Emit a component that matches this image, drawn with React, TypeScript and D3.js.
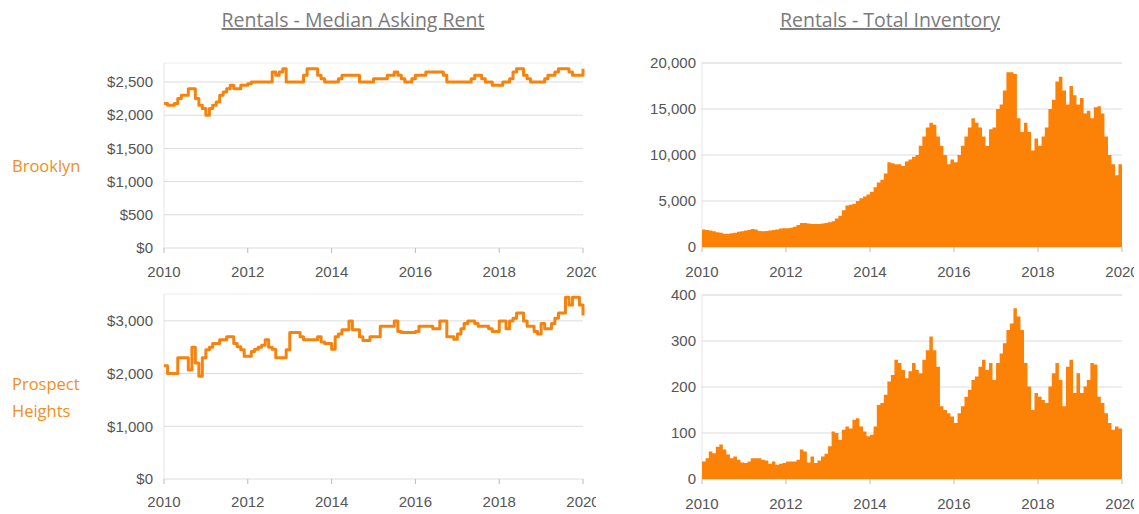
import React from "react";
import * as d3 from "d3";

const xTickYears = [2010, 2012, 2014, 2016, 2018, 2020];
const titles = ["Rentals - Median Asking Rent", "Rentals - Total Inventory"];

// Monthly values, Jan 2010 .. Jan 2020
const brooklynRent = [
  2175, 2150, 2150, 2175, 2250, 2300, 2300, 2400, 2400, 2250, 2150, 2100,
  2000, 2100, 2150, 2200, 2300, 2350, 2400, 2450, 2400, 2400, 2450, 2450,
  2475, 2500, 2500, 2500, 2500, 2500, 2500, 2650, 2600, 2650, 2700, 2500,
  2500, 2500, 2500, 2500, 2600, 2700, 2700, 2700, 2600, 2550, 2500, 2500,
  2500, 2500, 2550, 2600, 2600, 2600, 2600, 2600, 2500, 2500, 2500, 2500,
  2550, 2550, 2550, 2550, 2600, 2600, 2650, 2600, 2550, 2500, 2500, 2550,
  2600, 2600, 2600, 2650, 2650, 2650, 2650, 2650, 2600, 2500, 2500, 2500,
  2500, 2500, 2500, 2500, 2550, 2600, 2600, 2550, 2500, 2500, 2450, 2450,
  2450, 2500, 2500, 2550, 2650, 2700, 2700, 2600, 2550, 2500, 2500, 2500,
  2500, 2550, 2600, 2600, 2650, 2700, 2700, 2700, 2650, 2600, 2600, 2600,
  2700,
];

const prospectRent = [
  2150, 2000, 2000, 2000, 2300, 2300, 2300, 2070, 2500, 2200, 1950, 2300,
  2450, 2500, 2570, 2570, 2640, 2640, 2700, 2700, 2570, 2510, 2450, 2330,
  2330, 2420, 2460, 2500, 2540, 2640, 2500, 2460, 2300, 2300, 2300, 2450,
  2780, 2780, 2780, 2700, 2640, 2640, 2640, 2640, 2700, 2600, 2570, 2570,
  2460, 2700, 2750, 2830, 2830, 3000, 2830, 2830, 2700, 2630, 2630, 2700,
  2700, 2700, 2900, 2900, 2900, 2900, 3000, 2800, 2780, 2780, 2780, 2780,
  2800, 2900, 2900, 2900, 2900, 2850, 2850, 3000, 3000, 2700, 2700, 2650,
  2750, 2850, 2950, 3000, 3000, 2950, 2900, 2900, 2900, 2850, 2800, 2800,
  3000, 3000, 2850, 3000, 3050, 3150, 3150, 3000, 2900, 2900, 2800, 2750,
  2950, 2850, 2850, 2950, 3050, 3150, 3150, 3450, 3300, 3450, 3450, 3300,
  3100,
];

const brooklynInventory = [
  1900, 1850, 1800, 1700, 1600, 1550, 1450, 1450, 1500, 1550, 1650, 1700,
  1800, 1850, 1950, 1900, 1750, 1700, 1750, 1800, 1850, 1900, 2000, 2050,
  2050, 2100, 2200, 2400, 2600, 2600, 2550, 2500, 2500, 2500, 2550, 2600,
  2700, 2800, 3100, 3400, 4000, 4500, 4600, 4700, 5000, 5300, 5500, 5700,
  6000, 6500, 7000, 7300, 8000, 9200, 9100, 9000, 9000, 8800, 9300, 9500,
  9800, 10000, 11000, 12000, 13000, 13500, 13300, 12000, 11000, 10000, 9000, 9500,
  9200, 10000, 11000, 12000, 13000, 14000, 13500, 13000, 12000, 11000, 12800, 13000,
  15000, 15500, 17000, 19000, 19000, 18800, 14000, 12500, 13500, 12500, 10500, 11800,
  11000, 12000, 13000, 15000, 16000, 18000, 18500, 17000, 15500, 17500, 16500, 15500,
  16200, 14500, 14800, 14000, 15200, 15300, 14500, 12000, 10000, 9000, 7800, 9000,
  8500,
];

const prospectInventory = [
  38, 45, 60, 56, 70, 75, 64, 53, 45, 49, 42, 36,
  35, 38, 45, 45, 45, 42, 40, 33, 38, 31, 33, 35,
  38, 38, 38, 42, 64, 60, 36, 49, 35, 40, 49, 55,
  71, 103, 100, 85, 107, 114, 110, 129, 132, 114, 103, 93,
  96, 114, 161, 165, 183, 212, 226, 259, 252, 237, 219, 234,
  252, 237, 230, 259, 280, 310, 280, 244, 158, 150, 143, 136,
  122, 143, 158, 179, 194, 215, 223, 244, 259, 237, 252, 215,
  252, 273, 295, 324, 338, 371, 353, 324, 252, 201, 150, 187,
  179, 172, 165, 201, 230, 252, 215, 158, 244, 259, 187, 230,
  187, 201, 215, 252, 249, 179, 165, 143, 122, 107, 114, 110,
  110,
];

const rentTicksBrooklyn = [0, 500, 1000, 1500, 2000, 2500];
const rentTicksProspect = [0, 1000, 2000, 3000];
const invTicksBrooklyn = [0, 5000, 10000, 15000, 20000];
const invTicksProspect = [0, 100, 200, 300, 400];

const ORANGE = "#f7830d";
const FILL = "#fb8107";
const GRID = "#dcdcdc";
const TICK_TEXT = "#555";
const TICK_FONT = "'Liberation Sans', Arial, sans-serif";
const LABEL_FONT = "'Open Sans', sans-serif";

type PanelProps = {
  id: string;
  x0: number;
  x1: number;
  yTop: number;
  yBottom: number;
  max: number;
  ticks: number[];
  fmt: (v: number) => string;
  values: number[];
  kind: "line" | "area";
  labelGap: number;
  xLabelY: number;
  clipRight: number;
};

function Panel(p: PanelProps) {
  const x = d3
    .scaleTime()
    .domain([new Date(2010, 0, 1), new Date(2020, 0, 1)])
    .range([p.x0, p.x1]);
  const y = d3.scaleLinear().domain([0, p.max]).range([p.yBottom, p.yTop]);
  const pts = p.values.map((v, i) => ({ d: new Date(2010, i, 1), v }));

  let path = "";
  if (p.kind === "line") {
    path =
      d3
        .line<{ d: Date; v: number }>()
        .x((d) => x(d.d))
        .y((d) => y(d.v))
        .curve(d3.curveStepAfter)(pts) || "";
  } else {
    path =
      d3
        .area<{ d: Date; v: number }>()
        .x((d) => x(d.d))
        .y0(y(0))
        .y1((d) => y(d.v))
        .curve(d3.curveStepAfter)(pts) || "";
  }

  return (
    <g>
      <defs>
        <clipPath id={p.id}>
          <rect x={0} y={0} width={p.clipRight} height={514} />
        </clipPath>
      </defs>
      <line x1={p.x0} x2={p.x1} y1={p.yTop} y2={p.yTop} stroke="#ececec" />
      <line x1={p.x0} x2={p.x0} y1={p.yTop} y2={p.yBottom} stroke="#e4e4e4" />
      {p.ticks.map((t) => (
        <g key={t}>
          <line x1={p.x0} x2={p.x1} y1={y(t)} y2={y(t)} stroke={GRID} strokeWidth={1} />
          <text
            x={p.x0 - p.labelGap}
            y={y(t)}
            dy="0.35em"
            textAnchor="end"
            fontFamily={TICK_FONT}
            fontSize={15}
            fill={TICK_TEXT}
          >
            {p.fmt(t)}
          </text>
        </g>
      ))}
      {p.kind === "line" ? (
        <path d={path} fill="none" stroke={ORANGE} strokeWidth={3} strokeLinejoin="round" />
      ) : (
        <path d={path} fill={FILL} stroke="none" />
      )}
      <g clipPath={`url(#${p.id})`}>
        {xTickYears.map((yr) => {
          const xx = x(new Date(yr, 0, 1));
          return (
            <g key={yr}>
              <line x1={xx} x2={xx} y1={p.yBottom} y2={p.yBottom + 5} stroke="#bbb" />
              <text
                x={xx}
                y={p.xLabelY}
                textAnchor="middle"
                fontFamily={TICK_FONT}
                fontSize={15}
                fill={TICK_TEXT}
              >
                {yr}
              </text>
            </g>
          );
        })}
      </g>
    </g>
  );
}

const fmtDollar = (v: number) => "$" + d3.format(",")(v);
const fmtNum = (v: number) => d3.format(",")(v);

export default function App() {
  return (
    <svg
      width={1139}
      height={514}
      style={{ position: "absolute", left: 0, top: 0, background: "#fff" }}
    >
      <rect width={1139} height={514} fill="#fff" />
      <text
        x={353}
        y={27}
        textAnchor="middle"
        fontFamily={LABEL_FONT}
        fontSize={19.5}
        fill="#7a7a7a"
        textDecoration="underline"
      >
        {titles[0]}
      </text>
      <text
        x={890}
        y={27}
        textAnchor="middle"
        fontFamily={LABEL_FONT}
        fontSize={19.5}
        fill="#7a7a7a"
        textDecoration="underline"
      >
        {titles[1]}
      </text>

      <text x={12} y={172} fontFamily={LABEL_FONT} fontSize={16.5} fill="#ee8f22">
        Brooklyn
      </text>
      <text x={12} y={390} fontFamily={LABEL_FONT} fontSize={16.5} fill="#ee8f22">
        Prospect
      </text>
      <text x={12} y={417} fontFamily={LABEL_FONT} fontSize={16.5} fill="#ee8f22">
        Heights
      </text>

      <Panel
        id="c1"
        x0={164}
        x1={583}
        yTop={63}
        yBottom={248}
        max={2786}
        ticks={rentTicksBrooklyn}
        fmt={fmtDollar}
        values={brooklynRent}
        kind="line"
        labelGap={11}
        xLabelY={277}
        clipRight={596}
      />
      <Panel
        id="c2"
        x0={164}
        x1={583}
        yTop={294}
        yBottom={479}
        max={3510}
        ticks={rentTicksProspect}
        fmt={fmtDollar}
        values={prospectRent}
        kind="line"
        labelGap={11}
        xLabelY={507}
        clipRight={596}
      />
      <Panel
        id="c3"
        x0={702}
        x1={1122}
        yTop={63}
        yBottom={247}
        max={20000}
        ticks={invTicksBrooklyn}
        fmt={fmtNum}
        values={brooklynInventory}
        kind="area"
        labelGap={6}
        xLabelY={277}
        clipRight={1134}
      />
      <Panel
        id="c4"
        x0={702}
        x1={1122}
        yTop={295}
        yBottom={479}
        max={400}
        ticks={invTicksProspect}
        fmt={fmtNum}
        values={prospectInventory}
        kind="area"
        labelGap={6}
        xLabelY={509}
        clipRight={1134}
      />
    </svg>
  );
}
